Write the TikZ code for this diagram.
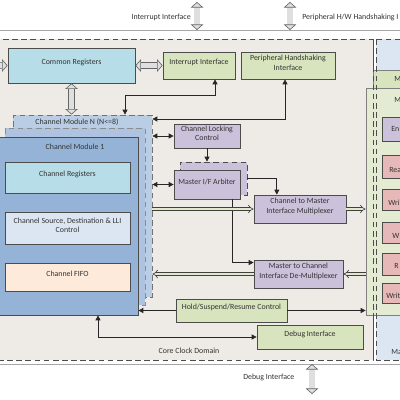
\documentclass[tikz,border=0pt]{standalone}
\usepackage{fontspec}
\setmainfont{Carlito}
\usetikzlibrary{arrows.meta}
\usetikzlibrary{fit}
\usetikzlibrary{calc}

\definecolor{corebg}{HTML}{EEEBE7}
\definecolor{mstblue}{HTML}{DCE6F2}
\definecolor{mstgreen}{HTML}{D7E4BD}
\definecolor{mstgreenl}{HTML}{E3EBD3}
\definecolor{regcyan}{HTML}{B7DDE8}
\definecolor{ifgreen}{HTML}{D7E4BD}
\definecolor{ctlpurple}{HTML}{CCC1DA}
\definecolor{chred}{HTML}{E6B9B8}
\definecolor{modN}{HTML}{B9CDE5}
\definecolor{modmid}{HTML}{ADC3E0}
\definecolor{modone}{HTML}{95B3D7}
\definecolor{srcblue}{HTML}{DCE6F2}
\definecolor{fifopeach}{HTML}{FDEADA}
\definecolor{busfill}{HTML}{E3E8CD}

\begin{document}
\begin{tikzpicture}[x=0.025cm,y=-0.025cm,
  every node/.style={font=\fontsize{5.6}{7}\selectfont, text=black!80, align=center, inner sep=0pt},
  blk/.style={draw=black!70, line width=0.5pt},
  cyanbox/.style={blk, fill=regcyan},
  greenbox/.style={blk, fill=ifgreen},
  purplebox/.style={blk, fill=ctlpurple},
  redbox/.style={blk, fill=chred},
  dashframe/.style={draw=black!70, line width=0.5pt, dash pattern=on 4pt off 2.5pt},
  sarr/.style={draw=black!85, line width=0.5pt, >={Triangle[length=3.5pt,width=3.5pt]}},
  harr/.style={draw=black!75, line width=0.45pt, double=busfill, double distance=1.6pt, -{Implies}},
  garr/.style={draw=gray!80!black, line width=0.45pt, double=gray!25, double distance=4pt,
               >={Triangle[open,fill=gray!25,length=4pt,width=9pt]}, <->}]

  \useasboundingbox (0,0) rectangle (400,400);
  \clip (0,0) rectangle (400,400);
  \fill[white] (0,0) rectangle (400,400);

  % domains
  \draw[gray!70, line width=0.6pt] (-10,30) rectangle (410,364);
  \draw[dashframe, fill=corebg] (-10,39) rectangle (373,360);
  \draw[dashframe, fill=mstblue] (376,39) rectangle (410,360);

  % master side
  \node[blk, draw=black!50, fill=mstgreen, fit={(373,70) (410,305)}] (mstN) {};
  \node[blk, draw=black!50, fill=mstgreenl, fit={(366,88) (410,315)}] (mst1) {};
  \draw[dashframe] (373,39) -- (373,360);
  \draw[dashframe] (376,39) -- (376,360);
  \node[anchor=west] (mstNt) at (394,79) {M};
  \node[anchor=west] (mst1t) at (394,100) {M};
  \node[purplebox, fit={(382,117) (410,141)}] (endn) {};
  \node[redbox, fit={(382,155) (410,178)}] (rach) {};
  \node[redbox, fit={(382,189) (410,210)}] (wach) {};
  \node[redbox, fit={(382,222) (410,243)}] (wdch) {};
  \node[redbox, fit={(382,253) (410,275)}] (rdch) {};
  \node[redbox, fit={(382,283) (410,303)}] (wrch) {};
  \node[anchor=west] at (391,129) {En};
  \node[anchor=west] at (389,170) {Rea};
  \node[anchor=west] at (388,203) {Wri};
  \node[anchor=west] at (392,236) {W};
  \node[anchor=west] at (394,266) {R};
  \node[anchor=west] at (386,296) {Writ};
  \node[anchor=west] (lmst) at (391,352) {Ma};

  % channel modules
  \node[dashframe, draw=black!55, fill=modN, fit={(13,115) (152,297)}] (cmN) {};
  \node[anchor=north] (cmNt) at (77,118) {Channel Module N (N<=8)};
  \node[dashframe, draw=black!45, fill=modmid, fit={(5,128) (145,305)}] (cm2) {};
  \node[blk, fill=modone, fit={(-10,137) (138,315)}] (cm1) {};
  \node (cm1t) at (75,147) {Channel Module 1};
  \node[cyanbox, fit={(5,162) (130,193)}] (chreg) {Channel Registers};
  \node[blk, fill=srcblue, fit={(5,212) (130,244)}] (chsrc) {Channel Source, Destination \& LLI\\Control};
  \node[blk, fill=fifopeach, fit={(5,263) (130,291)}] (chfifo) {Channel FIFO};

  % core blocks
  \node[cyanbox, fit={(8,48) (135,83)}] (creg) {Common Registers};
  \node[greenbox, fit={(163,52) (235,79)}] (intr) {Interrupt Interface};
  \node[greenbox, fit={(241,52) (335,79)}] (phs) {Peripheral Handshaking\\Interface};
  \node[purplebox, fit={(174,124) (240,148)}] (clc) {Channel Locking\\Control};
  \node[purplebox, dashframe, fit={(180,162) (247,195)}] (arbb) {};
  \node[purplebox, fit={(174,170) (240,199)}] (arb) {Master I/F Arbiter};
  \node[purplebox, fit={(254,195) (346,223)}] (mux) {Channel to Master\\Interface Multiplexer};
  \node[purplebox, fit={(254,260) (343,288)}] (demux) {Master to Channel\\Interface De-Multiplexer};
  \node[greenbox, fit={(176,299) (287,322)}] (hsr) {Hold/Suspend/Resume Control};
  \node[greenbox, fit={(257,325) (363,349)}] (dbg) {Debug Interface};

  % outside labels
  \node[anchor=east] (lintr) at (191,17) {Interrupt Interface};
  \node[anchor=west] (lphs) at (302,17) {Peripheral H/W Handshaking I};
  \node[anchor=west] (ldbg) at (243,377) {Debug Interface};
  \node (lcore) at (189,351) {Core Clock Domain};

  % block arrows
  \coordinate (tintr) at (197,2);
  \coordinate (tphs) at (290,2);
  \coordinate (bdbg) at (312,394);
  \coordinate (lin) at (-12,65.5);
  \draw[garr] (tintr) -- (tintr |- 0,30);
  \draw[garr] (tphs) -- (tphs |- 0,30);
  \draw[garr] (bdbg) -- (bdbg |- 0,364);
  \draw[garr] (lin) -- (creg.west);
  \draw[garr] (creg.east) -- (intr.west);
  \draw[garr] (creg.south) -- (creg.south |- cmN.north);

  % control connectors
  \draw[sarr, <->] (intr.south -| 215,0) |- (125,95) -- (cmN.north -| 125,0);
  \draw[sarr, <->] (phs.south -| 285,0) |- (cmN.east |- 0,119);
  \draw[sarr, <->] (cmN.east |- clc.west) -- (clc.west);
  \draw[sarr, ->] (clc.south) -- (clc.south |- arbb.north);
  \draw[sarr, <->] (cmN.east |- arb.west) -- (arb.west);
  \draw[sarr, ->] (arbb.east) -| ($(mux.north west)!0.25!(mux.north east)$);
  \draw[sarr, ->] (arb.south -| 232,0) |- ($(demux.north west)!0.1!(demux.south west)$);
  \draw[sarr, ->] (hsr.west) -- (hsr.west -| cm1.east);
  \draw[sarr, ->] (hsr.east) -- (hsr.east -| mst1.west);
  \draw[sarr, <->] (dbg.west) -| (cm1.south -| 98,0);

  % data buses
  \draw[harr] (cmN.east |- mux.west) -- (mux.west);
  \draw[harr] (mux.east) -- (mux.east -| mst1.west);
  \draw[harr] (mst1.west |- demux.east) -- (demux.east);
  \draw[harr] (demux.west) -- (demux.west -| cmN.east);
\end{tikzpicture}
\end{document}
